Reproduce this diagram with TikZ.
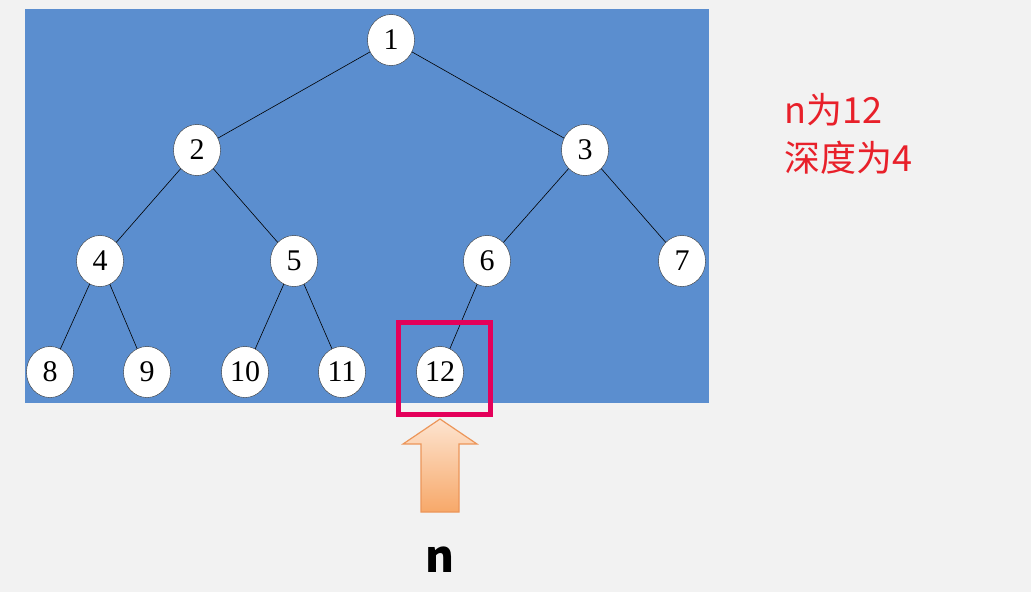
\documentclass[tikz,border=0pt]{standalone}
\usepackage{fontspec}
\setmainfont{Liberation Serif}
\newfontfamily\cjk{Noto Sans CJK SC}
\usetikzlibrary{shapes.geometric}
\definecolor{bgc}{RGB}{242,242,242}
\definecolor{bluebg}{RGB}{91,142,207}
\definecolor{boxred}{RGB}{228,0,90}
\definecolor{txtred}{RGB}{232,32,42}
\definecolor{arrtop}{RGB}{253,228,208}
\definecolor{arrbot}{RGB}{247,168,105}
\definecolor{arredge}{RGB}{236,150,90}
\begin{document}
\begin{tikzpicture}[x=1pt,y=-1pt,
  tnode/.style={ellipse,draw=black!80,line width=0.4pt,fill=white,minimum width=47pt,minimum height=51pt,inner sep=0pt,font=\fontsize{30}{30}\selectfont},
  edge/.style={black,line width=0.6pt}]
\useasboundingbox (0,0) rectangle (1031,592);
\fill[bgc] (0,0) rectangle (1031,592);
\fill[bluebg] (25,9) rectangle (709,403);
\node[tnode] (n1) at (391,40) {1};
\node[tnode] (n2) at (197,150) {2};
\node[tnode] (n3) at (585,150) {3};
\node[tnode] (n4) at (100,261) {4};
\node[tnode] (n5) at (294,261) {5};
\node[tnode] (n6) at (487,261) {6};
\node[tnode] (n7) at (682,261) {7};
\node[tnode] (n8) at (50,372) {8};
\node[tnode] (n9) at (147,372) {9};
\node[tnode] (n10) at (245,372) {10};
\node[tnode] (n11) at (342,372) {11};
\node[tnode] (n12) at (440,372) {12};
\draw[edge] (n1) -- (n2);
\draw[edge] (n1) -- (n3);
\draw[edge] (n2) -- (n4);
\draw[edge] (n2) -- (n5);
\draw[edge] (n3) -- (n6);
\draw[edge] (n3) -- (n7);
\draw[edge] (n4) -- (n8);
\draw[edge] (n4) -- (n9);
\draw[edge] (n5) -- (n10);
\draw[edge] (n5) -- (n11);
\draw[edge] (n6) -- (n12);
\node[draw=boxred,line width=5pt,minimum width=92pt,minimum height=92pt,inner sep=0pt] (box) at (444.5,368.5) {};
\draw[arredge,line width=1.2pt,top color=arrtop,bottom color=arrbot]
  (440,419) -- (477,444) -- (459,444) -- (459,512) -- (421,512) -- (421,444) -- (403,444) -- cycle;
\node[font=\cjk\bfseries\fontsize{44}{44}\selectfont] (nlabel) at (440,560) {n};
\node[font=\cjk\fontsize{36}{48}\selectfont,text=txtred,align=left,anchor=north west] (info) at (781,90) {n为12\\深度为4};
\end{tikzpicture}
\end{document}
